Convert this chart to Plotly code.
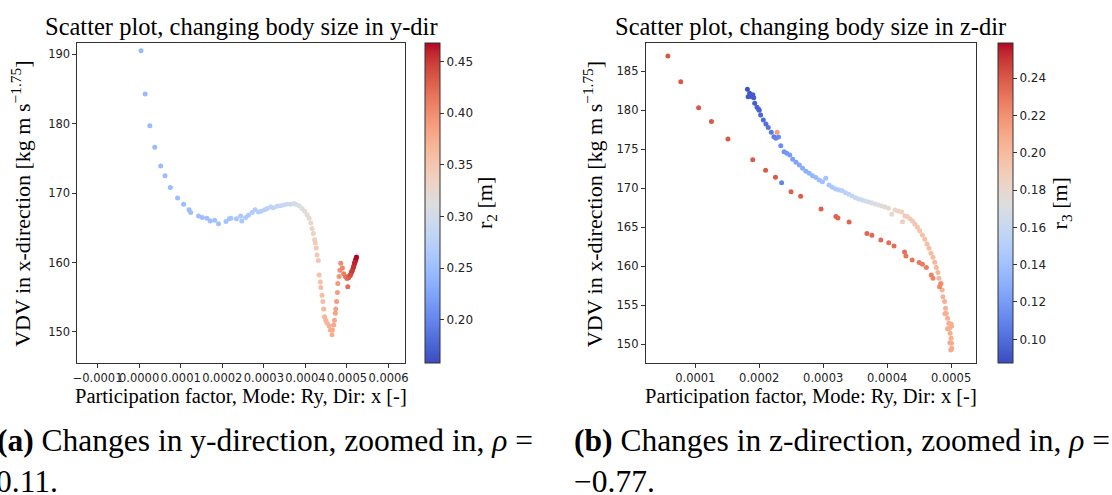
import plotly.graph_objects as go

W, H = 1112, 495

# ---------------- data: left panel (changing body size in y-dir) ----------------
y_pf = [0.0000045, 0.0000146, 0.0000257, 0.0000376, 0.0000520, 0.0000623, 0.0000750, 0.0000926,
        0.0001070, 0.0001200, 0.0001240, 0.0001430, 0.0001520, 0.0001630, 0.0001710, 0.0001820,
        0.0001910, 0.0002090, 0.0002170, 0.0002210, 0.0002340, 0.0002440, 0.0002470, 0.0002560,
        0.0002630, 0.0002720, 0.0002790, 0.0002870, 0.0002940, 0.0003020, 0.0003080, 0.0003160,
        0.0003230, 0.0003320, 0.0003400, 0.0003480, 0.0003560, 0.0003640, 0.0003720, 0.0003770,
        0.0003850, 0.0003920, 0.0003980, 0.0004040, 0.0004090, 0.0004130, 0.0004160, 0.0004190,
        0.0004220, 0.0004240, 0.0004260, 0.0004280, 0.0004310, 0.0004330, 0.0004360, 0.0004370,
        0.0004400, 0.0004420, 0.0004440, 0.0004460, 0.0004490, 0.0004520, 0.0004570, 0.0004600,
        0.0004640, 0.0004650, 0.0004680, 0.0004700, 0.0004720, 0.0004730, 0.0004750, 0.0004770,
        0.0004780, 0.0004810, 0.0004830, 0.0004850, 0.0004890, 0.0004920, 0.0004960, 0.0004990,
        0.0005020, 0.0005030, 0.0005050, 0.0005070, 0.0005090, 0.0005110, 0.0005130, 0.0005150,
        0.0005170, 0.0005180, 0.0005200, 0.0005210, 0.0005220, 0.0005230,
        0.0005000, 0.0005040, 0.0005080, 0.0005120, 0.0005160, 0.0005190]
y_vdv = [190.5, 184.3, 179.7, 176.6, 173.9, 172.5, 170.8, 169.3,
         168.4, 167.6, 167.2, 166.7, 166.5, 166.4, 166.0, 166.1,
         165.6, 165.9, 166.3, 166.4, 166.3, 166.7, 166.0, 166.5,
         166.8, 167.2, 167.6, 167.3, 167.4, 167.6, 167.8, 168.0,
         167.9, 168.1, 168.2, 168.3, 168.4, 168.4, 168.5, 168.4,
         168.2, 167.8, 167.4, 166.9, 166.4, 165.7, 164.9, 164.2,
         163.3, 162.8, 162.1, 161.1, 160.3, 158.2, 157.2, 156.4,
         155.3, 154.4, 153.3, 152.2, 151.7, 151.3, 150.9, 150.3,
         149.6, 150.3, 151.0, 151.7, 152.7, 153.3, 154.4, 155.7,
         157.0, 158.0, 158.9, 159.9, 159.2, 158.4, 158.0, 157.9,
         156.5, 157.9, 158.0, 158.1, 158.3, 158.6, 158.9, 159.2,
         159.6, 159.9, 160.2, 160.4, 160.6, 160.8,
         157.7, 157.8, 158.2, 158.8, 159.4, 160.0]
y_r2 = [0.245, 0.246, 0.246, 0.247, 0.247, 0.248, 0.248, 0.249,
        0.249, 0.250, 0.250, 0.251, 0.251, 0.252, 0.252, 0.253,
        0.254, 0.256, 0.257, 0.258, 0.259, 0.261, 0.262, 0.264,
        0.265, 0.267, 0.269, 0.270, 0.272, 0.274, 0.276, 0.279,
        0.281, 0.284, 0.287, 0.290, 0.293, 0.296, 0.300, 0.303,
        0.307, 0.311, 0.315, 0.319, 0.323, 0.327, 0.331, 0.335,
        0.338, 0.341, 0.344, 0.347, 0.350, 0.353, 0.355, 0.357,
        0.359, 0.361, 0.363, 0.365, 0.367, 0.369, 0.371, 0.373,
        0.375, 0.377, 0.379, 0.381, 0.383, 0.385, 0.387, 0.389,
        0.392, 0.395, 0.398, 0.402, 0.406, 0.410, 0.414, 0.418,
        0.422, 0.426, 0.430, 0.434, 0.438, 0.442, 0.446, 0.450,
        0.454, 0.458, 0.461, 0.464, 0.466, 0.468,
        0.420, 0.430, 0.440, 0.450, 0.455, 0.460]

# ---------------- data: right panel (changing body size in z-dir) ----------------
z_pf_a = [0.0001815, 0.0001826, 0.0001850, 0.0001867, 0.0001888, 0.0001900, 0.0001914, 0.0001929,
          0.0001965, 0.0001991, 0.0002000, 0.0002022, 0.0002064, 0.0002105, 0.0002141, 0.0002188,
          0.0002229, 0.0002260, 0.0002301, 0.0002337, 0.0002389, 0.0002430, 0.0002477, 0.0002523,
          0.0002575, 0.0002627, 0.0002678, 0.0002730, 0.0002782, 0.0002833, 0.0002885, 0.0002937,
          0.0002988, 0.0003040, 0.0003091, 0.0003143, 0.0003195, 0.0003246, 0.0003298, 0.0003349,
          0.0003401, 0.0003453, 0.0003504, 0.0003556, 0.0003607, 0.0003659, 0.0003711, 0.0003762,
          0.0003814, 0.0003865, 0.0003917, 0.0003968, 0.0004020, 0.0004071, 0.0004123, 0.0004174,
          0.0004226, 0.0004240, 0.0004277, 0.0004313, 0.0004355, 0.0004396, 0.0004432, 0.0004473,
          0.0004509, 0.0004551, 0.0004587, 0.0004623, 0.0004654, 0.0004685, 0.0004716, 0.0004742,
          0.0004768, 0.0004794, 0.0004809, 0.0004845, 0.0004861, 0.0004871, 0.0004897, 0.0004913,
          0.0004923, 0.0004944, 0.0004964, 0.0004975, 0.0004985, 0.0005000, 0.0005006, 0.0005011,
          0.0004995, 0.0004903, 0.0004944, 0.0004980, 0.0005000, 0.0005005,
          0.0002280, 0.0002350]
z_vdv_a = [182.69, 181.75, 182.20, 181.97, 181.75, 182.00, 181.62, 180.90,
           180.38, 180.13, 180.00, 179.40, 178.76, 178.25, 177.78, 177.18,
           176.62, 176.41, 176.58, 175.47, 174.70, 174.49, 174.27, 173.72,
           173.33, 172.99, 172.56, 172.18, 171.92, 171.62, 171.37, 171.07,
           170.85, 171.28, 170.43, 170.13, 169.91, 169.78, 169.70, 169.44,
           169.23, 169.02, 168.80, 168.63, 168.50, 168.37, 168.25, 168.12,
           167.99, 167.86, 167.73, 167.60, 167.43, 166.66, 167.22, 167.09,
           166.96, 165.72, 166.45, 166.37, 166.11, 165.81, 165.43, 165.00,
           164.57, 164.01, 163.46, 162.86, 162.30, 161.67, 161.15, 160.51,
           159.83, 159.19, 158.46, 157.82, 156.96, 156.11, 155.47, 154.61,
           153.97, 153.33, 152.69, 152.05, 151.41, 150.77, 150.12, 149.48,
           149.27, 153.90, 152.00, 150.20, 152.60, 152.30,
           177.18, 170.70]
z_r3_a = [0.090, 0.091, 0.091, 0.092, 0.092, 0.093, 0.093, 0.094,
          0.095, 0.096, 0.096, 0.097, 0.099, 0.101, 0.103, 0.105,
          0.107, 0.109, 0.111, 0.113, 0.116, 0.118, 0.120, 0.122,
          0.124, 0.126, 0.128, 0.130, 0.132, 0.134, 0.136, 0.138,
          0.140, 0.141, 0.143, 0.145, 0.147, 0.149, 0.151, 0.153,
          0.155, 0.157, 0.159, 0.161, 0.163, 0.165, 0.167, 0.169,
          0.171, 0.173, 0.175, 0.177, 0.179, 0.180, 0.182, 0.184,
          0.186, 0.187, 0.188, 0.190, 0.191, 0.192, 0.193, 0.194,
          0.195, 0.196, 0.197, 0.198, 0.199, 0.200, 0.200, 0.201,
          0.202, 0.202, 0.203, 0.203, 0.204, 0.204, 0.205, 0.205,
          0.205, 0.206, 0.206, 0.206, 0.207, 0.207, 0.207, 0.208,
          0.208, 0.206, 0.207, 0.208, 0.207, 0.207,
          0.215, 0.110]

z_pf_b = [0.0000572, 0.0000773, 0.0001052, 0.0001253, 0.0001511, 0.0001898, 0.0002099, 0.0002254,
          0.0002497, 0.0002647, 0.0002967, 0.0003199, 0.0003230, 0.0003405, 0.0003684, 0.0003761,
          0.0003901, 0.0004025, 0.0004107, 0.0004272, 0.0004293, 0.0004391, 0.0004500, 0.0004551,
          0.0004613, 0.0004690, 0.0004716, 0.0004819, 0.0004834]
z_vdv_b = [186.97, 183.67, 180.34, 178.55, 176.32, 173.67, 172.31, 171.41,
           169.57, 168.97, 167.35, 166.37, 166.20, 165.68, 164.19, 163.97,
           163.37, 163.03, 162.60, 161.84, 161.32, 160.81, 160.47, 160.25,
           159.83, 158.89, 158.46, 157.39, 157.73]
z_r3_b = [0.240, 0.240, 0.240, 0.240, 0.240, 0.239, 0.239, 0.239,
          0.238, 0.238, 0.237, 0.237, 0.236, 0.236, 0.235, 0.235,
          0.234, 0.233, 0.233, 0.232, 0.231, 0.230, 0.229, 0.228,
          0.227, 0.226, 0.225, 0.223, 0.222]

# ticks
left_xticks = [-0.0001, 0.0, 0.0001, 0.0002, 0.0003, 0.0004, 0.0005, 0.0006]
left_xticktext = ["\u22120.0001", "0.0000", "0.0001", "0.0002", "0.0003", "0.0004", "0.0005", "0.0006"]
left_yticks = [150, 160, 170, 180, 190]
right_xticks = [0.0001, 0.0002, 0.0003, 0.0004, 0.0005]
right_xticktext = ["0.0001", "0.0002", "0.0003", "0.0004", "0.0005"]
right_yticks = [150, 155, 160, 165, 170, 175, 180, 185]
left_cticks = [0.20, 0.25, 0.30, 0.35, 0.40, 0.45]
left_cticktext = ["0.20", "0.25", "0.30", "0.35", "0.40", "0.45"]
right_cticks = [0.10, 0.12, 0.14, 0.16, 0.18, 0.20, 0.22, 0.24]
right_cticktext = ["0.10", "0.12", "0.14", "0.16", "0.18", "0.20", "0.22", "0.24"]

# matplotlib "coolwarm" (Moreland) colour table
cw_rgb = [(59, 76, 192), (68, 90, 204), (77, 104, 215), (87, 117, 225), (98, 130, 234),
          (108, 142, 241), (119, 154, 247), (130, 165, 251), (141, 176, 254), (152, 185, 255),
          (163, 194, 255), (174, 201, 253), (184, 208, 249), (194, 213, 244), (204, 217, 238),
          (213, 219, 230), (221, 221, 221), (229, 216, 209), (236, 211, 197), (241, 204, 184),
          (245, 196, 172), (247, 187, 160), (247, 177, 148), (247, 166, 135), (244, 154, 123),
          (241, 141, 111), (236, 127, 99), (229, 112, 88), (222, 96, 77), (213, 80, 66),
          (203, 62, 56), (192, 40, 47), (180, 4, 38)]
n = len(cw_rgb) - 1
coolwarm = [[i / n, "rgb(%d,%d,%d)" % c] for i, c in enumerate(cw_rgb)]

SERIF = "Liberation Serif"
SANS = "DejaVu Sans"


def px(x):
    return x / W


def py(y):
    return 1 - y / H


# axes boxes (pixels)
LX0, LX1 = 73, 403
RX0, RX1 = 646, 979
AY0, AY1 = 43, 363

fig = go.Figure()
fig.add_trace(go.Scatter(x=y_pf, y=y_vdv, mode="markers", xaxis="x", yaxis="y",
                         marker=dict(size=5, color=y_r2, coloraxis="coloraxis", line=dict(width=0)),
                         showlegend=False, hoverinfo="skip"))
fig.add_trace(go.Scatter(x=z_pf_a, y=z_vdv_a, mode="markers", xaxis="x2", yaxis="y2",
                         marker=dict(size=5, color=z_r3_a, coloraxis="coloraxis2", line=dict(width=0)),
                         showlegend=False, hoverinfo="skip"))
fig.add_trace(go.Scatter(x=z_pf_b, y=z_vdv_b, mode="markers", xaxis="x2", yaxis="y2",
                         marker=dict(size=5, color=z_r3_b, coloraxis="coloraxis2", line=dict(width=0)),
                         showlegend=False, hoverinfo="skip"))

axis_common = dict(showline=True, mirror=True, linecolor="#333333", linewidth=1,
                   ticks="outside", ticklen=4, tickwidth=1, tickcolor="#333333",
                   showgrid=False, zeroline=False, tickangle=0,
                   tickfont=dict(family=SANS, size=11.5, color="#222222"))

cbar_common = dict(thickness=15, thicknessmode="pixels", len=AY1 - AY0, lenmode="pixels",
                   y=py((AY0 + AY1) / 2), yanchor="middle", xanchor="left", xpad=0, ypad=0,
                   outlinecolor="#333333", outlinewidth=1, ticks="outside", ticklen=4,
                   tickcolor="#333333", tickfont=dict(family=SANS, size=12, color="#222222"))

fig.update_layout(
    width=W, height=H, margin=dict(l=0, r=0, t=0, b=0),
    paper_bgcolor="white", plot_bgcolor="white",
    xaxis=dict(domain=[px(LX0), px(LX1)], range=[-0.0001485, 0.000639],
               tickvals=left_xticks, ticktext=left_xticktext, anchor="y", **axis_common),
    yaxis=dict(domain=[py(AY1), py(AY0)], range=[145.53, 191.63],
               tickvals=left_yticks, anchor="x", **axis_common),
    xaxis2=dict(domain=[px(RX0), px(RX1)], range=[0.0000226, 0.000539],
                tickvals=right_xticks, ticktext=right_xticktext, anchor="y2", **axis_common),
    yaxis2=dict(domain=[py(AY1), py(AY0)], range=[147.6, 188.63],
                tickvals=right_yticks, anchor="x2", **axis_common),
    coloraxis=dict(colorscale=coolwarm, cmin=0.158, cmax=0.468,
                   colorbar=dict(x=px(423), tickvals=left_cticks, ticktext=left_cticktext, **cbar_common)),
    coloraxis2=dict(colorscale=coolwarm, cmin=0.0873, cmax=0.2588,
                    colorbar=dict(x=px(1001), tickvals=right_cticks, ticktext=right_cticktext, **cbar_common)),
)

ann = []
# panel titles
ann.append(dict(text="Scatter plot, changing body size in y-dir", x=px(238), y=py(26),
                font=dict(family=SERIF, size=24.5, color="black")))
ann.append(dict(text="Scatter plot, changing body size in z-dir", x=px(812.5), y=py(26),
                font=dict(family=SERIF, size=24.5, color="black")))
# y-axis titles
ytitle = "VDV in x-direction [kg m s<sup>\u22121.75</sup>]"
ann.append(dict(text=ytitle, x=px(16), y=py(204), textangle=-90,
                font=dict(family=SERIF, size=22, color="black")))
ann.append(dict(text=ytitle, x=px(593), y=py(204), textangle=-90,
                font=dict(family=SERIF, size=22, color="black")))
# x-axis titles
xtitle = "Participation factor, Mode: Ry, Dir: x [-]"
ann.append(dict(text=xtitle, x=px(238), y=py(396),
                font=dict(family=SERIF, size=20.5, color="black")))
ann.append(dict(text=xtitle, x=px(812.5), y=py(396),
                font=dict(family=SERIF, size=20.5, color="black")))
# colorbar titles
ann.append(dict(text="r<sub>2</sub> [m]", x=px(485), y=py(203), textangle=-90,
                font=dict(family=SERIF, size=22, color="black")))
ann.append(dict(text="r<sub>3</sub> [m]", x=px(1065), y=py(203), textangle=-90,
                font=dict(family=SERIF, size=22, color="black")))
# sub-captions
cap_font = dict(family=SERIF, size=31.5, color="black")
ann.append(dict(text="<b>(a)</b> Changes in y-direction, zoomed in, <i>\u03c1</i> =",
                x=px(-10), y=py(440), xanchor="left", font=cap_font))
ann.append(dict(text="0.11.", x=px(-11), y=py(481), xanchor="left", font=cap_font))
ann.append(dict(text="<b>(b)</b> Changes in z-direction, zoomed in, <i>\u03c1</i> =",
                x=px(572), y=py(440), xanchor="left", font=cap_font))
ann.append(dict(text="\u22120.77.", x=px(572), y=py(481), xanchor="left", font=cap_font))

for a in ann:
    a.setdefault("xanchor", "center")
    a.setdefault("yanchor", "middle")
    a.update(xref="paper", yref="paper", showarrow=False)
fig.update_layout(annotations=ann)

fig.write_html("out.html")
